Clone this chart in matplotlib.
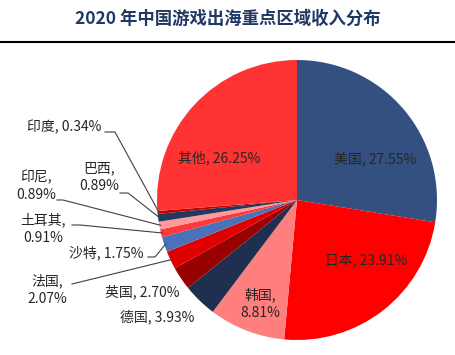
import matplotlib
matplotlib.use("Agg")
from matplotlib import pyplot as plt
from matplotlib.lines import Line2D
import numpy as np

plt.rcParams['font.family'] = ['Noto Sans CJK SC', 'DejaVu Sans']

# data, clockwise from 12 o'clock
regions = ["美国", "日本", "韩国", "德国", "英国", "法国", "沙特",
           "土耳其", "印尼", "巴西", "印度", "其他"]
shares = [27.55, 23.91, 8.81, 3.93, 2.70, 2.07, 1.75, 0.91, 0.89, 0.89, 0.34, 26.25]
colors = ["#335080", "#FF0000", "#FF7F7F", "#1F2F4F", "#990000", "#E00000",
          "#4A72B8", "#FF3838", "#FF9A9A", "#22385C", "#C00000", "#FF3333"]

title = "2020 年中国游戏出海重点区域收入分布"

W, H = 456, 355
cx, cy, r = 297, 200, 140   # pie centre / radius in pixels (from top)

fig = plt.figure(figsize=(W / 100, H / 100), dpi=100)
ax = fig.add_axes([(cx - r) / W, (H - cy - r) / H, 2 * r / W, 2 * r / H])

wedges, _ = ax.pie(shares, colors=colors, startangle=90, counterclock=False,
                   radius=1, wedgeprops=dict(linewidth=0))
ax.set_xlim(-1, 1)
ax.set_ylim(-1, 1)
ax.set_aspect("equal")
ax.axis("off")


def px(x, y):
    # pixel position (from top-left) -> data coords
    return (x - cx) / r, (cy - y) / r


def label(i, text_px, two_lines=False, line_from=None):
    txt = f"{regions[i]},\n{shares[i]:.2f}%" if two_lines else f"{regions[i]}, {shares[i]:.2f}%"
    tx, ty = px(*text_px)
    ax.text(tx, ty, txt, ha="center", va="center", fontsize=10,
            color="#262626", linespacing=1.35, clip_on=False)
    if line_from is not None:
        w = wedges[i]
        mid = np.deg2rad((w.theta1 + w.theta2) / 2)
        ex, ey = 0.99 * np.cos(mid), 0.99 * np.sin(mid)
        xs = [px(*p)[0] for p in line_from] + [ex]
        ys = [px(*p)[1] for p in line_from] + [ey]
        ax.plot(xs, ys, color="#404040", lw=0.8, clip_on=False)


label(0, (375, 160))
label(1, (366, 260))
label(2, (260, 304), two_lines=True)
label(3, (157, 317))
label(4, (142, 292))
label(5, (47, 290), two_lines=True, line_from=[(72, 284)])
label(6, (106, 253), line_from=[(148, 257), (155, 257)])
label(7, (43, 229), two_lines=True, line_from=[(72, 225), (80, 225)])
label(8, (36, 186), two_lines=True, line_from=[(57, 200), (63, 200)])
label(9, (99, 177), two_lines=True, line_from=[(120, 193), (128, 193)])
label(10, (64, 127), line_from=[(105, 132), (115, 132)])
label(11, (219, 158))

fig.text(228 / W, 1 - 19 / H, title, ha="center", va="center",
         fontsize=12.5, fontweight="bold", color="#1F3864")
fig.add_artist(Line2D([0, 1], [1 - 42 / H, 1 - 42 / H], color="black",
                      lw=1.5, transform=fig.transFigure))

fig.savefig("out.png", dpi=100)
